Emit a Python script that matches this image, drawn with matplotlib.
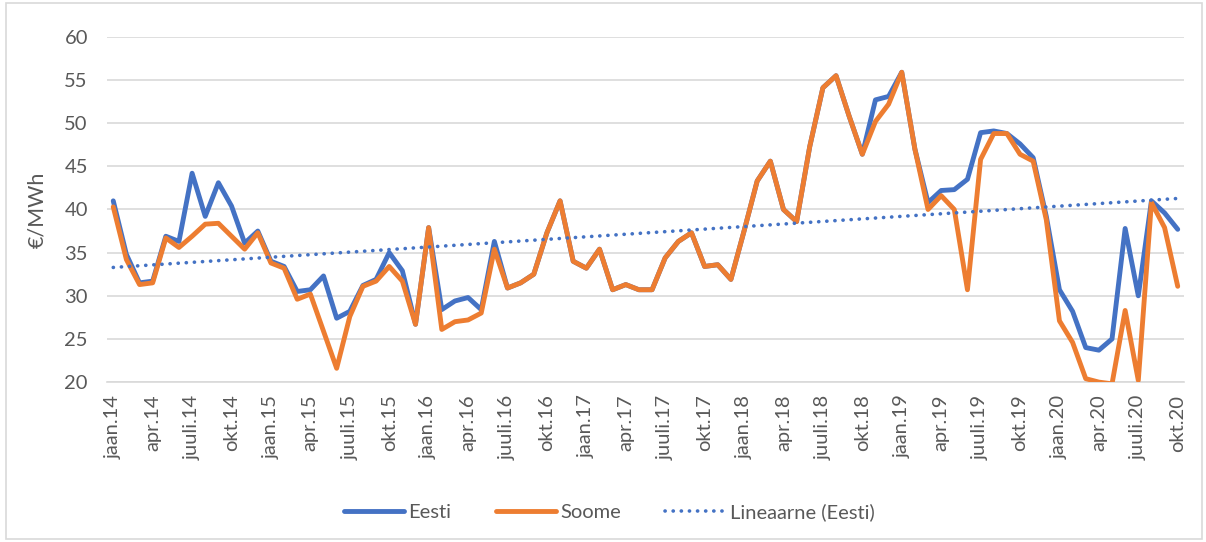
import matplotlib
matplotlib.use("Agg")
import matplotlib.pyplot as plt
import numpy as np

# monthly prices jaan.14 .. okt.20
eesti = [41.0, 34.8, 31.5, 31.7, 36.9, 36.3, 44.2, 39.2, 43.1, 40.4, 36.1, 37.5,
         34.0, 33.4, 30.5, 30.7, 32.3, 27.4, 28.2, 31.2, 31.9, 35.0, 32.9, 26.7,
         37.9, 28.4, 29.4, 29.8, 28.4, 36.3, 30.9, 31.5, 32.5, 37.3, 41.0, 34.0,
         33.2, 35.4, 30.7, 31.3, 30.7, 30.7, 34.4, 36.3, 37.3, 33.4, 33.6, 31.9,
         37.5, 43.3, 45.6, 40.0, 38.6, 47.3, 54.1, 55.5, 50.8, 46.4, 52.7, 53.1,
         55.9, 47.0, 40.8, 42.2, 42.3, 43.5, 48.9, 49.1, 48.8, 47.6, 46.0, 39.2,
         30.7, 28.2, 24.0, 23.7, 25.0, 37.8, 30.0, 41.0, 39.6, 37.7]
soome = [40.3, 34.2, 31.3, 31.5, 36.7, 35.6, 36.9, 38.3, 38.4, 36.9, 35.4, 37.3,
         33.8, 33.2, 29.6, 30.2, 25.9, 21.6, 27.6, 31.1, 31.7, 33.4, 31.7, 26.7,
         37.9, 26.1, 27.0, 27.2, 28.0, 35.4, 30.9, 31.5, 32.5, 37.3, 41.0, 34.0,
         33.2, 35.4, 30.7, 31.3, 30.7, 30.7, 34.4, 36.3, 37.3, 33.4, 33.6, 31.9,
         37.5, 43.3, 45.6, 40.0, 38.6, 47.3, 54.1, 55.5, 50.8, 46.4, 50.2, 52.2,
         55.9, 47.0, 40.0, 41.6, 40.0, 30.7, 45.8, 48.8, 48.8, 46.4, 45.6, 38.8,
         27.1, 24.6, 20.4, 20.0, 19.8, 28.3, 20.2, 40.8, 37.9, 31.1]
months = ["jaan", "veebr", "märts", "apr", "mai", "juuni", "juuli", "aug", "sept", "okt", "nov", "dets"]
labels = [f"{months[i % 12]}.{14 + i // 12}" for i in range(len(eesti))]

blue = "#4472C4"
orange = "#ED7D31"
grey = "#595959"

plt.rcParams["font.family"] = ["Lato", "DejaVu Sans"]

fig = plt.figure(figsize=(12.06, 5.42), dpi=100)
ax = fig.add_axes([0.089, 0.295, 0.893, 0.637])

x = np.arange(len(eesti))
k, b = np.polyfit(x, eesti, 1)

ax.plot(x, eesti, color=blue, lw=3.5, label="Eesti", solid_joinstyle="round", solid_capstyle="round", zorder=3)
ax.plot(x, soome, color=orange, lw=3.5, label="Soome", solid_joinstyle="round", solid_capstyle="round", zorder=4)
ax.plot(x, k * x + b, color=blue, lw=2.6, ls=(0, (0.05, 2.2)), dash_capstyle="round",
        label="Lineaarne (Eesti)", zorder=5)

ax.set_xlim(-0.45, 81.5)
ax.set_ylim(20, 60)
ax.set_yticks(range(20, 61, 5))
ax.set_xticks(x[::3])
ax.set_xticklabels(labels[::3], rotation=90)
ax.grid(axis="y", color="#D9D9D9", lw=1.2)
ax.set_axisbelow(True)
for s in ax.spines.values():
    s.set_visible(False)
ax.spines["bottom"].set_visible(True)
ax.spines["bottom"].set_color("#D9D9D9")
ax.spines["bottom"].set_linewidth(1.2)
ax.tick_params(length=0, colors=grey, labelsize=14.5, pad=9)
ax.tick_params(axis="y", pad=14)
ax.set_ylabel("€/MWh", color=grey, fontsize=15.5, labelpad=12)

fig.legend(loc="center", bbox_to_anchor=(0.505, 0.055), ncol=3, frameon=False,
           fontsize=14.5, labelcolor=grey, handlelength=3.0, handletextpad=0.2,
           columnspacing=2.2)

fig.patches.append(plt.Rectangle((0.005, 0.005), 0.992, 0.99, transform=fig.transFigure,
                                 fill=False, edgecolor="#D9D9D9", lw=1.2))

fig.savefig("out.png", dpi=100)
